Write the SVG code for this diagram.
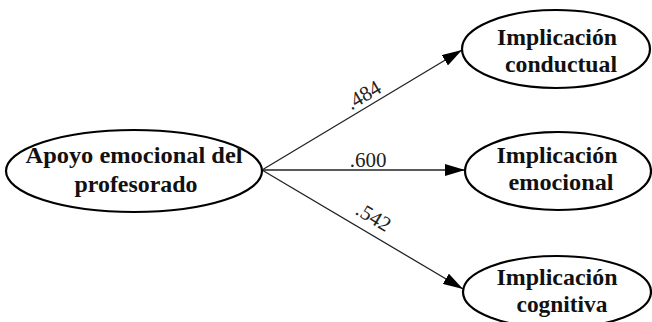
<svg xmlns="http://www.w3.org/2000/svg" width="652" height="322" viewBox="0 0 652 322">
<style>
.node ellipse{fill:#fff;stroke:#000;stroke-width:2.2}
.node text{font-family:"Liberation Serif","Times New Roman",serif;font-weight:bold;font-size:24px;text-anchor:middle;fill:#111}
.edge{stroke:#222;stroke-width:1.3;fill:none}
.lbl{font-family:"Liberation Serif","Times New Roman",serif;font-size:21px;text-anchor:middle;fill:#222}
</style>
<defs>
<marker id="ah" markerWidth="20" markerHeight="12" refX="20" refY="6" orient="auto" markerUnits="userSpaceOnUse">
<path d="M0,0 L20,6 L0,12 z" fill="#000"/>
</marker>
</defs>
<rect width="652" height="322" fill="#fff"/>
<g id="connectors">
<line class="edge" x1="262" y1="170" x2="462" y2="50" marker-end="url(#ah)"/>
<line class="edge" x1="262" y1="170" x2="465" y2="170" marker-end="url(#ah)"/>
<line class="edge" x1="262" y1="170" x2="463" y2="289" marker-end="url(#ah)"/>
<text class="lbl" transform="translate(367,101) rotate(-31)">.484</text>
<text class="lbl" transform="translate(368,167)">.600</text>
<text class="lbl" transform="translate(370,223) rotate(31)">.542</text>
</g>
<g id="n-apoyo" class="node">
<ellipse cx="134" cy="171" rx="128" ry="41"/>
<text x="134" y="163" textLength="217" lengthAdjust="spacingAndGlyphs">Apoyo emocional del</text>
<text x="136" y="192" textLength="123" lengthAdjust="spacingAndGlyphs">profesorado</text>
</g>
<g id="n-conductual" class="node">
<ellipse cx="556" cy="49" rx="94" ry="39"/>
<text x="557" y="45" textLength="120" lengthAdjust="spacingAndGlyphs">Implicación</text>
<text x="561" y="72" textLength="112" lengthAdjust="spacingAndGlyphs">conductual</text>
</g>
<g id="n-emocional" class="node">
<ellipse cx="558" cy="171" rx="93" ry="39"/>
<text x="557" y="163" textLength="121" lengthAdjust="spacingAndGlyphs">Implicación</text>
<text x="561" y="190" textLength="105" lengthAdjust="spacingAndGlyphs">emocional</text>
</g>
<g id="n-cognitiva" class="node">
<ellipse cx="557" cy="292" rx="94" ry="36"/>
<text x="557" y="285" textLength="121" lengthAdjust="spacingAndGlyphs">Implicación</text>
<text x="562" y="312" textLength="91" lengthAdjust="spacingAndGlyphs">cognitiva</text>
</g>
</svg>
